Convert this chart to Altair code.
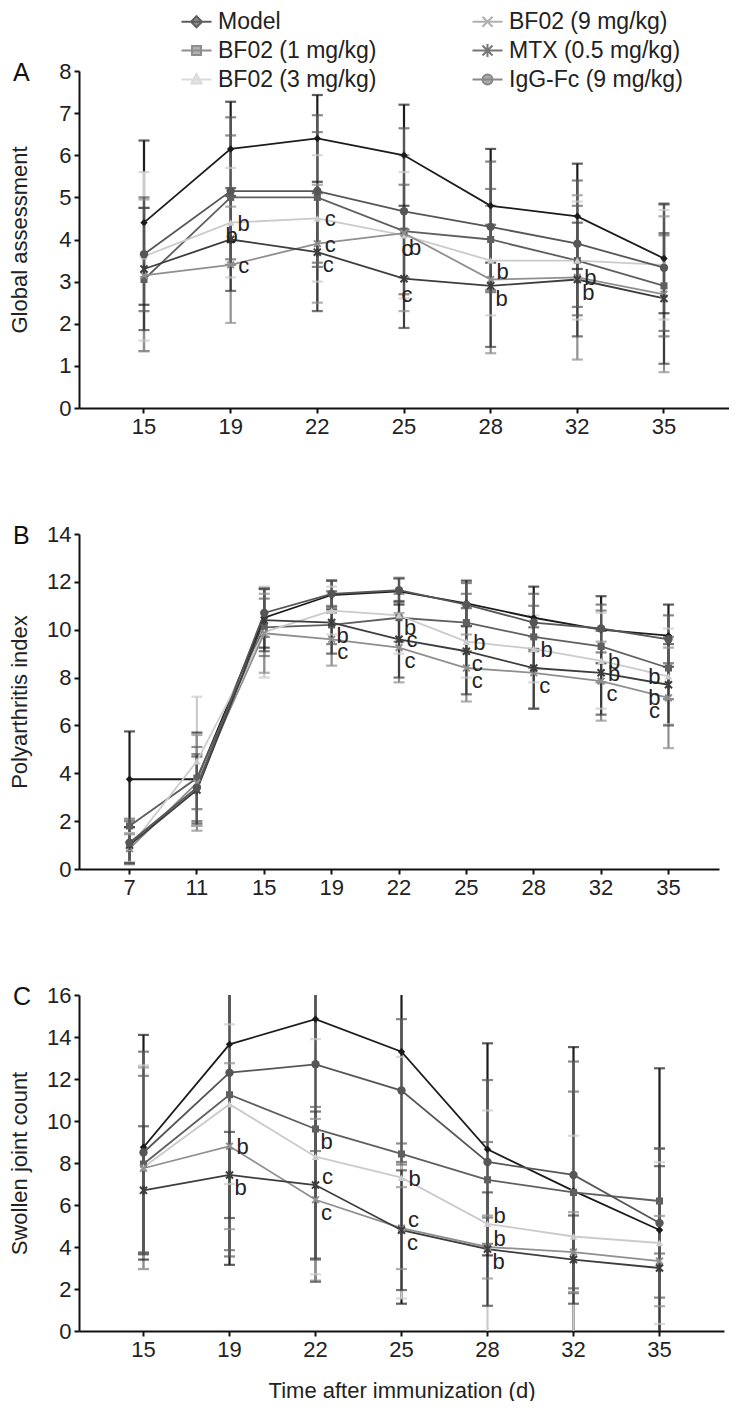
import altair as alt
import pandas as pd

FONT = "Liberation Sans"

SERIES = ["Model", "BF02 (1 mg/kg)", "BF02 (3 mg/kg)", "BF02 (9 mg/kg)",
          "MTX (0.5 mg/kg)", "IgG-Fc (9 mg/kg)"]
COLORS = ["#1b1b1b", "#5f5f5f", "#cbcbcb", "#8f8f8f", "#3d3d3d", "#565656"]
PLOT_SHAPES = ["diamond", "square", "triangle-up", "M-1,-1L1,1M-1,1L1,-1",
               "M-1,-1L1,1M-1,1L1,-1M0,-1.3V1.3", "circle"]
PLOT_FILLED = [True, True, True, False, False, True]
PLOT_SIZES = [55, 50, 55, 45, 50, 70]
LEGEND_SHAPES = [
    "M-3,0H3M0,-1.1L1.1,0L0,1.1L-1.1,0Z",
    "M-3,0H3M-0.9,-0.9H0.9V0.9H-0.9Z",
    "M-3,0H3M0,-1.1L1,0.8H-1Z",
    "M-3,0H3M-1,-1L1,1M-1,1L1,-1",
    "M-3,0H3M-1,-1L1,1M-1,1L1,-1M0,-1.3V1.3",
    "M-3,0H3M1,0A1,1 0 1,1 -1,0A1,1 0 1,1 1,0Z",
]

# ---------------- Panel A: Global assessment ----------------
DAYS_A = [15, 19, 22, 25, 28, 32, 35]
A_MODEL = [4.4, 6.15, 6.4, 6.0, 4.8, 4.55, 3.55]
A_MODEL_SD = [1.95, 1.12, 1.03, 1.2, 1.35, 1.25, 1.3]
A_BF1 = [3.05, 5.0, 5.0, 4.2, 4.0, 3.5, 2.9]
A_BF1_SD = [1.7, 1.47, 1.55, 1.1, 1.2, 1.3, 1.2]
A_BF3 = [3.6, 4.4, 4.5, 4.1, 3.5, 3.5, 3.4]
A_BF3_SD = [2.0, 1.3, 1.5, 1.5, 1.3, 1.4, 1.3]
A_BF9 = [3.15, 3.4, 3.9, 4.15, 3.05, 3.1, 2.7]
A_BF9_SD = [1.8, 1.38, 1.4, 1.85, 1.75, 1.95, 1.85]
A_MTX = [3.3, 4.0, 3.7, 3.07, 2.9, 3.05, 2.6]
A_MTX_SD = [1.45, 1.22, 1.4, 1.17, 1.45, 1.35, 1.55]
A_IGG = [3.65, 5.15, 5.15, 4.67, 4.3, 3.9, 3.33]
A_IGG_SD = [1.35, 1.75, 1.8, 1.97, 1.55, 1.5, 1.5]
A_NOTES = [
    ("BF02 (3 mg/kg)", 19, "b", "r"), ("MTX (0.5 mg/kg)", 19, "b", "u"),
    ("BF02 (9 mg/kg)", 19, "c", "r"),
    ("BF02 (3 mg/kg)", 22, "c", "r"), ("BF02 (9 mg/kg)", 22, "c", "r"),
    ("MTX (0.5 mg/kg)", 22, "c", "br"),
    ("BF02 (3 mg/kg)", 25, "b", "br"), ("BF02 (9 mg/kg)", 25, "c", "b"),
    ("MTX (0.5 mg/kg)", 25, "c", "b"),
    ("BF02 (9 mg/kg)", 28, "b", "ur"), ("MTX (0.5 mg/kg)", 28, "b", "br"),
    ("BF02 (9 mg/kg)", 32, "b", "r"), ("MTX (0.5 mg/kg)", 32, "b", "br"),
]

# ---------------- Panel B: Polyarthritis index ----------------
DAYS_B = [7, 11, 15, 19, 22, 25, 28, 32, 35]
B_MODEL = [3.75, 3.75, 10.5, 11.45, 11.6, 11.1, 10.5, 10.0, 9.75]
B_MODEL_SD = [2.0, 1.95, 1.25, 0.6, 0.55, 0.95, 1.3, 1.4, 1.3]
B_BF1 = [1.8, 3.8, 10.1, 10.2, 10.5, 10.3, 9.7, 9.3, 8.4]
B_BF1_SD = [0.3, 1.3, 1.2, 0.8, 1.0, 1.2, 1.3, 1.5, 1.3]
B_BF3 = [0.9, 4.5, 9.9, 10.8, 10.6, 9.5, 9.2, 8.7, 8.05]
B_BF3_SD = [0.6, 2.7, 1.9, 1.0, 1.6, 1.5, 1.4, 2.0, 2.0]
B_BF9 = [0.85, 3.6, 9.85, 9.6, 9.25, 8.4, 8.2, 7.85, 7.15]
B_BF9_SD = [0.6, 2.0, 1.65, 1.1, 1.45, 1.4, 1.5, 1.65, 2.1]
B_MTX = [1.0, 3.3, 10.4, 10.3, 9.6, 9.1, 8.4, 8.2, 7.7]
B_MTX_SD = [0.75, 1.4, 1.3, 1.3, 1.6, 1.8, 1.7, 1.75, 1.7]
B_IGG = [1.1, 3.4, 10.7, 11.5, 11.65, 11.05, 10.3, 10.05, 9.6]
B_IGG_SD = [0.9, 1.4, 1.0, 0.55, 0.5, 0.9, 1.2, 1.0, 1.0]
B_NOTES = [
    ("MTX (0.5 mg/kg)", 19, "b", "br"), ("BF02 (9 mg/kg)", 19, "c", "br"),
    ("BF02 (3 mg/kg)", 22, "b", "br"), ("MTX (0.5 mg/kg)", 22, "c", "r"),
    ("BF02 (9 mg/kg)", 22, "c", "br"),
    ("BF02 (3 mg/kg)", 25, "b", "r"), ("MTX (0.5 mg/kg)", 25, "c", "br"),
    ("BF02 (9 mg/kg)", 25, "c", "br"),
    ("BF02 (3 mg/kg)", 28, "b", "r"), ("BF02 (9 mg/kg)", 28, "c", "br"),
    ("BF02 (3 mg/kg)", 32, "b", "r"), ("MTX (0.5 mg/kg)", 32, "b", "r"),
    ("BF02 (9 mg/kg)", 32, "c", "br"),
    ("BF02 (3 mg/kg)", 35, "b", "l"), ("MTX (0.5 mg/kg)", 35, "b", "bl"),
    ("BF02 (9 mg/kg)", 35, "c", "bl"),
]

# ---------------- Panel C: Swollen joint count ----------------
DAYS_C = [15, 19, 22, 25, 28, 32, 35]
C_MODEL = [8.75, 13.65, 14.85, 13.3, 8.65, 6.67, 4.81]
C_MODEL_SD = [5.35, 10.5, 12.5, 12.0, 5.05, 6.85, 7.7]
C_BF1 = [7.95, 11.25, 9.62, 8.43, 7.2, 6.6, 6.19]
C_BF1_SD = [4.2, 7.4, 1.05, 0.5, 1.8, 4.8, 2.5]
C_BF3 = [7.8, 10.8, 8.3, 7.3, 5.1, 4.5, 4.19]
C_BF3_SD = [4.85, 3.8, 5.6, 5.75, 5.4, 4.8, 3.85]
C_BF9 = [7.75, 8.8, 6.25, 4.9, 4.0, 3.76, 3.33]
C_BF9_SD = [4.8, 3.95, 3.85, 1.95, 1.5, 1.9, 2.15]
C_MTX = [6.7, 7.43, 6.95, 4.8, 3.9, 3.4, 3.0]
C_MTX_SD = [3.05, 2.05, 3.5, 2.85, 2.7, 2.1, 4.85]
C_IGG = [8.5, 12.3, 12.7, 11.45, 8.05, 7.43, 5.14]
C_IGG_SD = [4.8, 8.75, 9.3, 3.4, 3.9, 5.4, 3.55]
C_NOTES = [
    ("BF02 (9 mg/kg)", 19, "b", "r"), ("MTX (0.5 mg/kg)", 19, "b", "br"),
    ("BF02 (1 mg/kg)", 22, "b", "br"), ("MTX (0.5 mg/kg)", 22, "c", "ur"),
    ("BF02 (9 mg/kg)", 22, "c", "br"),
    ("BF02 (3 mg/kg)", 25, "b", "r"), ("BF02 (9 mg/kg)", 25, "c", "ur"),
    ("MTX (0.5 mg/kg)", 25, "c", "br"),
    ("BF02 (3 mg/kg)", 28, "b", "ur"), ("BF02 (9 mg/kg)", 28, "b", "ur"),
    ("MTX (0.5 mg/kg)", 28, "b", "br"),
]

# label placement offsets (style only)
PLACES = {"r": (13, 1), "ur": (12, -8), "br": (11, 13), "u": (1, -4),
          "b": (3, 16), "l": (-14, 1), "bl": (-14, 13)}


def build_df(days, means, sds):
    rows = []
    for s, ms, es in zip(SERIES, means, sds):
        for d, m, e in zip(days, ms, es):
            rows.append({"day": d, "series": s, "mean": m, "lo": m - e, "hi": m + e})
    return pd.DataFrame(rows)


def build_notes(df, notes):
    rows = []
    for s, d, t, p in notes:
        m = df[(df["series"] == s) & (df["day"] == d)]["mean"].iloc[0]
        rows.append({"day": d, "series": s, "mean": m, "txt": t, "place": p})
    return pd.DataFrame(rows)


# colour scale for the marks (domain listed in reverse so it stays distinct
# from the legend scales, which keep the legend's own entry order)
color_scale = alt.Scale(domain=SERIES[::-1], range=COLORS[::-1])


def make_panel(df, ndf, days, ymax, ystep, ytitle, letter, width, height,
               xtitle=None, with_legend=False):
    xaxis = alt.Axis(labelAngle=0, title=xtitle, titlePadding=20) if xtitle else \
        alt.Axis(labelAngle=0, title=None)
    X = alt.X("day:O", scale=alt.Scale(domain=days, padding=0.5), axis=xaxis)
    yscale = alt.Scale(domain=[0, ymax], nice=False)
    yaxis = alt.Axis(values=list(range(0, ymax + 1, ystep)), title=ytitle,
                     titleX=-60, titleY=height / 2, titleBaseline="middle")

    def Y(field):
        return alt.Y(field, scale=yscale, axis=yaxis, title=ytitle)

    col = alt.Color("series:N", scale=color_scale, legend=None)
    base = alt.Chart(df)
    layers = [
        base.mark_rule(strokeWidth=2.2, clip=True).encode(x=X, y=Y("lo:Q"), y2="hi:Q", color=col),
        base.mark_tick(size=11, thickness=2.2, clip=True).encode(x=X, y=Y("lo:Q"), color=col),
        base.mark_tick(size=11, thickness=2.2, clip=True).encode(x=X, y=Y("hi:Q"), color=col),
        base.mark_line(strokeWidth=1.8).encode(x=X, y=Y("mean:Q"), color=col),
    ]
    for s, shp, fil, sz in zip(SERIES, PLOT_SHAPES, PLOT_FILLED, PLOT_SIZES):
        layers.append(
            base.transform_filter(alt.datum.series == s)
            .mark_point(shape=shp, filled=fil, size=sz, strokeWidth=2, opacity=1)
            .encode(x=X, y=Y("mean:Q"), color=col)
        )
    for p, (dx, dy) in PLACES.items():
        layers.append(
            alt.Chart(ndf).transform_filter(alt.datum.place == p)
            .mark_text(dx=dx, dy=dy, fontSize=22, font=FONT, color="#222")
            .encode(x=X, y=Y("mean:Q"), text="txt:N")
        )
    # panel letter
    layers.append(
        alt.Chart(pd.DataFrame({"t": [letter]}))
        .mark_text(align="left", baseline="middle", fontSize=25, font=FONT, color="#111")
        .encode(x=alt.value(-66), y=alt.value(2), text="t:N")
    )
    if with_legend:
        leg = alt.Legend(orient="none", legendX=106, legendY=-61, columns=2, title=None,
                         symbolSize=100, symbolStrokeWidth=2, labelFont=FONT,
                         labelFontSize=23, labelColor="#222", labelOffset=10,
                         labelLimit=400, rowPadding=5, columnPadding=91)
        layers.append(
            alt.Chart(pd.DataFrame({"group": SERIES})).transform_filter("false")
            .mark_point(filled=True, size=100, strokeWidth=2)
            .encode(
                fill=alt.Fill("group:N", scale=alt.Scale(domain=SERIES, range=COLORS), legend=leg),
                stroke=alt.Stroke("group:N", scale=alt.Scale(domain=SERIES, range=COLORS), legend=leg),
                shape=alt.Shape("group:N", scale=alt.Scale(domain=SERIES, range=LEGEND_SHAPES), legend=leg),
            )
        )
    return alt.layer(*layers).properties(width=width, height=height)


dfA = build_df(DAYS_A, [A_MODEL, A_BF1, A_BF3, A_BF9, A_MTX, A_IGG],
               [A_MODEL_SD, A_BF1_SD, A_BF3_SD, A_BF9_SD, A_MTX_SD, A_IGG_SD])
dfB = build_df(DAYS_B, [B_MODEL, B_BF1, B_BF3, B_BF9, B_MTX, B_IGG],
               [B_MODEL_SD, B_BF1_SD, B_BF3_SD, B_BF9_SD, B_MTX_SD, B_IGG_SD])
dfC = build_df(DAYS_C, [C_MODEL, C_BF1, C_BF3, C_BF9, C_MTX, C_IGG],
               [C_MODEL_SD, C_BF1_SD, C_BF3_SD, C_BF9_SD, C_MTX_SD, C_IGG_SD])

pA = make_panel(dfA, build_notes(dfA, A_NOTES), DAYS_A, 8, 1, "Global assessment", "A",
                650, 337, with_legend=True)
pB = make_panel(dfB, build_notes(dfB, B_NOTES), DAYS_B, 14, 2, "Polyarthritis index", "B",
                640, 335)
pC = make_panel(dfC, build_notes(dfC, C_NOTES), DAYS_C, 16, 2, "Swollen joint count", "C",
                645, 336, xtitle="Time after immunization (d)")

chart = alt.vconcat(pA, pB, pC, spacing=86).properties(
    padding={"left": 0, "top": 2, "right": 0, "bottom": 0}
).configure_view(stroke=None).configure_axis(
    grid=False, domainColor="#111", domainWidth=2, tickColor="#111", tickWidth=2,
    tickSize=5, labelFont=FONT, labelFontSize=22, labelColor="#222", labelPadding=3,
    titleFont=FONT, titleFontSize=22, titleFontWeight="normal", titleColor="#222",
)

chart.save("out.html", embed_options={"renderer": "svg", "actions": False})
